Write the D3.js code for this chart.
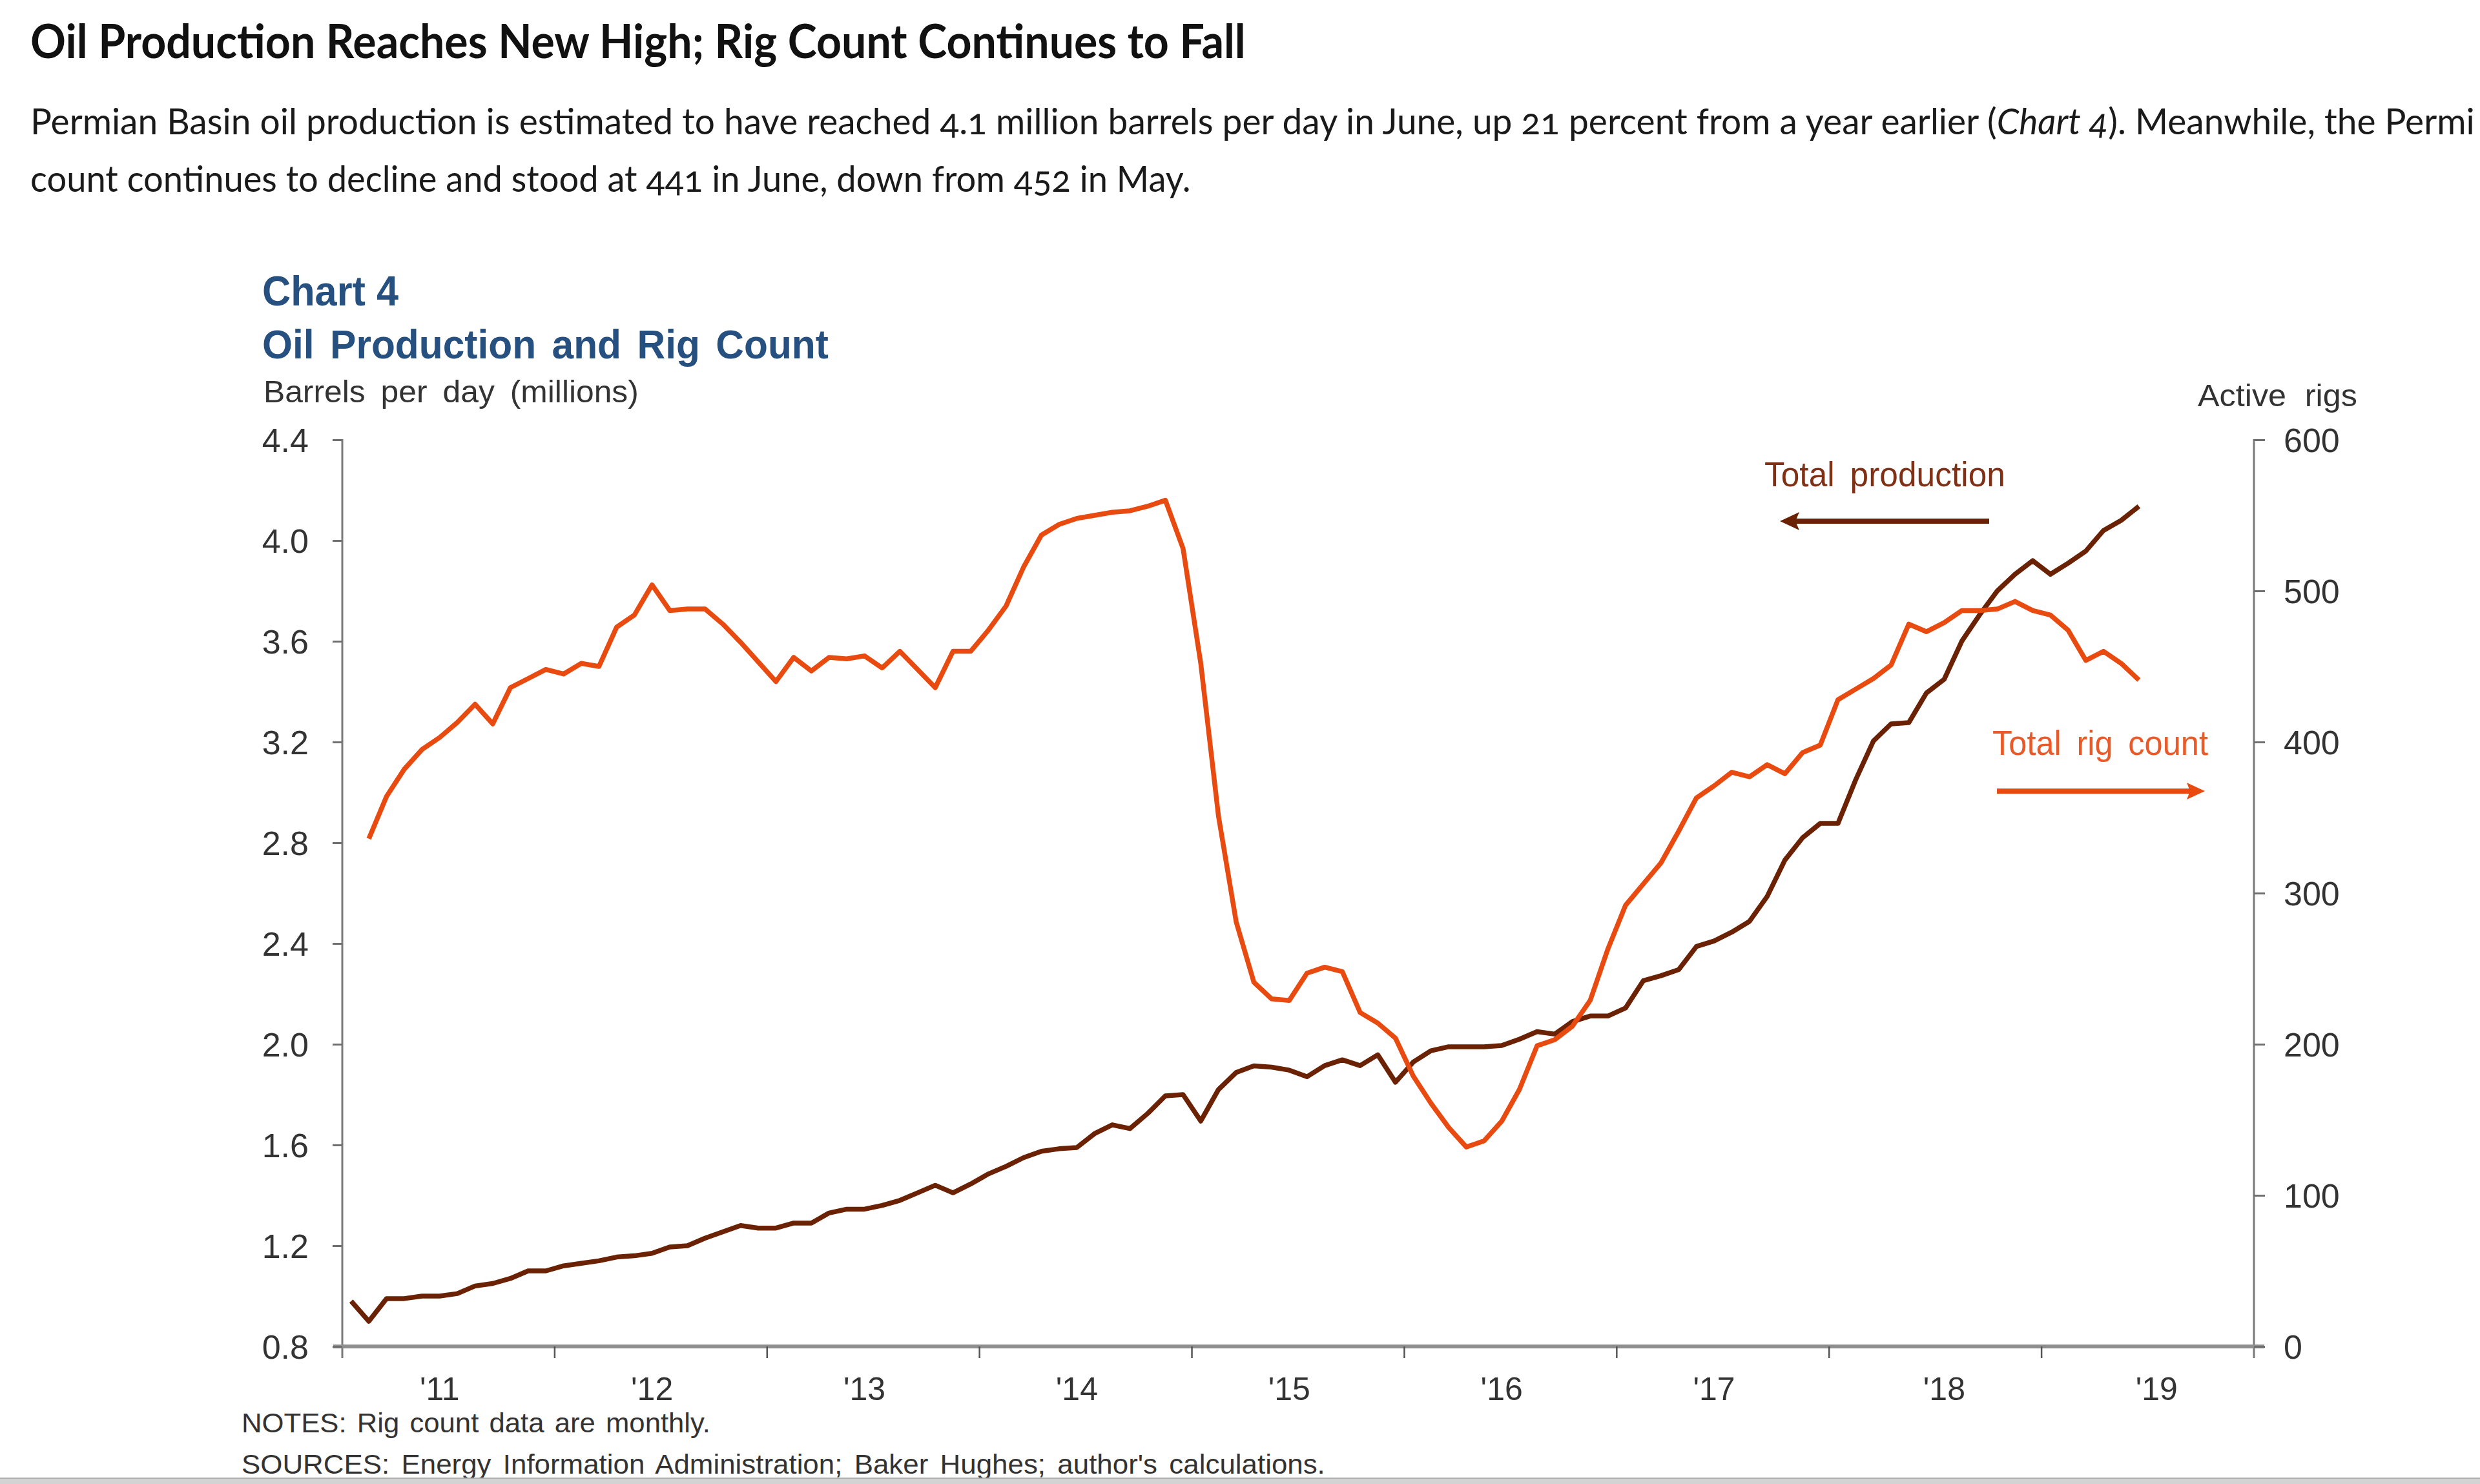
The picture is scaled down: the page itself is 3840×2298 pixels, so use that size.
<!DOCTYPE html>
<html><head><meta charset="utf-8">
<script src="https://cdn.jsdelivr.net/npm/d3@7"></script>
<style>
html,body{margin:0;padding:0;background:#fff;}
svg{display:block;}
</style></head>
<body>
<svg id="c" width="3840" height="2298"></svg>
<script>
// ---------------- DATA ----------------
// Monthly Permian Basin oil production (million barrels per day), Jan 2011 - Jun 2019
const production = [
  0.98,0.90,0.99,0.99,1.00,1.00,1.01,1.04,1.05,1.07,1.10,1.10,
  1.12,1.13,1.14,1.155,1.16,1.17,1.195,1.20,1.23,1.255,1.28,1.27,
  1.27,1.29,1.29,1.33,1.345,1.345,1.36,1.38,1.41,1.44,1.41,1.445,
  1.485,1.515,1.55,1.575,1.585,1.59,1.645,1.68,1.665,1.725,1.795,1.80,
  1.695,1.82,1.888,1.914,1.909,1.897,1.871,1.915,1.938,1.915,1.958,1.849,
  1.929,1.974,1.99,1.99,1.99,1.995,2.02,2.05,2.04,2.09,2.112,2.112,
  2.144,2.252,2.272,2.296,2.388,2.41,2.445,2.488,2.587,2.731,2.82,2.877,
  2.877,3.05,3.204,3.272,3.277,3.395,3.449,3.601,3.705,3.80,3.866,3.92,
  3.866,3.91,3.958,4.04,4.08,4.136
];
// Monthly Permian Basin active rig count, Jan 2011 - Jun 2019 (series begins Feb 2011)
const rigCount = [
  null,336,364,382,395,403,413,425,412,436,442,448,
  445,452,450,476,484,504,487,488,488,478,466,453,
  440,456,447,456,455,457,449,460,448,436,460,460,
  474,490,516,537,544,548,550,552,553,556,560,528,
  452,351,281,241,230,229,247,251,248,221,214,204,
  179,161,145,132,136,149,170,199,203,212,229,263,
  292,306,320,341,363,371,380,377,385,379,393,398,
  428,435,442,451,478,473,479,487,487,488,493,487,
  484,474,454,460,452,441
];
const leftTicks  = [0.8,1.2,1.6,2.0,2.4,2.8,3.2,3.6,4.0,4.4];
const rightTicks = [0,100,200,300,400,500,600];
const yearLabels = ["'11","'12","'13","'14","'15","'16","'17","'18","'19"];
const yearLabelMonths = ["2011-06","2012-06","2013-06","2014-06","2015-06","2016-06","2017-06","2018-07","2019-07"];

// ---------------- LAYOUT ----------------
const svg = d3.select("#c");
const plot = {left:530, right:3490, top:681, bottom:2085};
const fmtM = d3.timeFormat("%Y-%m");
const months = d3.timeMonth.range(new Date(2011,0,1), new Date(2020,0,1)).map(fmtM);
const x = d3.scaleBand().domain(months).range([plot.left, plot.right]).padding(0);
const xc = m => x(m) + x.bandwidth()/2;
const yL = d3.scaleLinear().domain([0.8,4.4]).range([plot.bottom, plot.top]);
const yR = d3.scaleLinear().domain([0,600]).range([plot.bottom, plot.top]);

const C_PROD = "#6B2204", C_RIG = "#E84A0F", C_BLUE = "#26507F";
const ARIAL = "'Liberation Sans', Arial, sans-serif";
const LATO = "Lato, 'Open Sans', sans-serif";

// helper: place text at (x,y) baseline, scaled horizontally to width w
function fitText(g, str, px, py, w, opts) {
  const t = g.append("text").attr("x",0).attr("y",0)
    .style("font-family", opts.family).style("font-size", opts.size+"px")
    .style("font-weight", opts.weight||400).attr("fill", opts.fill||"#222")
    .style("word-spacing", opts.ws||"0px")
    .style("font-variant-numeric", opts.num||"normal").text(str);
  const len = t.node().getComputedTextLength();
  const k = w/len;
  t.attr("transform", `translate(${px},${py}) scale(${k},1)`);
  return t;
}

// ---------- page header ----------
fitText(svg, "Oil Production Reaches New High; Rig Count Continues to Fall", 47, 90, 1882,
  {family:LATO, size:72, weight:700, fill:"#111"});

// body line 1 (the reference shows it cropped at the right edge after "Permi")
{
  const t = svg.append("text").attr("x",0).attr("y",0)
    .style("font-family", LATO).style("font-size","57px").attr("fill","#1a1a1a")
    .style("font-variant-numeric","oldstyle-nums");
  t.append("tspan").text("Permian Basin oil production is estimated to have reached 4.1 million barrels per day in June, up 21 percent from a year earlier (");
  t.append("tspan").style("font-style","italic").text("Chart 4");
  t.append("tspan").text("). Meanwhile, the Permi");
  const len = t.node().getComputedTextLength();
  const k = (3832-47)/len;
  t.attr("transform", `translate(47,208) scale(${k},1)`);
}
fitText(svg, "count continues to decline and stood at 441 in June, down from 452 in May.", 47, 297, 1797,
  {family:LATO, size:57, fill:"#1a1a1a", num:"oldstyle-nums"});

// ---------- chart titles ----------
fitText(svg, "Chart 4", 406, 473, 211, {family:ARIAL, size:64, weight:700, fill:C_BLUE});
fitText(svg, "Oil Production and Rig Count", 406, 555, 877, {family:ARIAL, size:63, weight:700, fill:C_BLUE, ws:"8px"});
fitText(svg, "Barrels per day (millions)", 408, 623, 581, {family:ARIAL, size:49, fill:"#333", ws:"10px"});
fitText(svg, "Active rigs", 3403, 629, 247, {family:ARIAL, size:48, fill:"#333", ws:"14px"});

// ---------- axes ----------
const axG = svg.append("g");
axG.append("line").attr("x1",plot.left).attr("x2",plot.left).attr("y1",plot.top-1).attr("y2",2103)
  .attr("stroke","#7a7a7a").attr("stroke-width",3);
axG.append("line").attr("x1",plot.right).attr("x2",plot.right).attr("y1",plot.top-1).attr("y2",2103)
  .attr("stroke","#7a7a7a").attr("stroke-width",3);

const gl = svg.append("g").attr("transform",`translate(${plot.left},0)`)
  .call(d3.axisLeft(yL).tickValues(leftTicks).tickSize(15).tickPadding(37).tickFormat(d3.format(".1f")));
const gr = svg.append("g").attr("transform",`translate(${plot.right},0)`)
  .call(d3.axisRight(yR).tickValues(rightTicks).tickSize(17).tickPadding(29).tickFormat(d3.format("d")));
[gl,gr].forEach(g=>{
  g.select(".domain").remove();
  g.selectAll(".tick line").attr("stroke","#6f6f6f").attr("stroke-width",3);
  g.selectAll(".tick text").attr("fill","#333").attr("dy","0.36em")
    .style("font-family",ARIAL).style("font-size","52px");
});

axG.append("line").attr("x1",516).attr("x2",3506).attr("y1",plot.bottom).attr("y2",plot.bottom)
  .attr("stroke","#8e8e8e").attr("stroke-width",6);
const yearStarts = months.filter(m => m.endsWith("-01") && m !== months[0]);
axG.selectAll(".xt").data(yearStarts).join("line").attr("class","xt")
  .attr("x1",d=>x(d)).attr("x2",d=>x(d)).attr("y1",plot.bottom).attr("y2",2103)
  .attr("stroke","#555").attr("stroke-width",2.5);
axG.selectAll(".xl").data(yearLabels).join("text").attr("class","xl")
  .attr("x",(d,i)=>xc(yearLabelMonths[i])).attr("y",2168)
  .attr("text-anchor","middle").attr("fill","#333")
  .style("font-family",ARIAL).style("font-size","50px").text(d=>d);

// ---------- series ----------
const prodData = production.map((v,i)=>({m:months[i], v}));
const rigData  = rigCount.map((v,i)=>({m:months[i], v}));
const lineL = d3.line().x(d=>xc(d.m)).y(d=>yL(d.v));
const lineR = d3.line().defined(d=>d.v!=null).x(d=>xc(d.m)).y(d=>yR(d.v));

svg.append("path").datum(prodData).attr("d",lineL).attr("fill","none")
  .attr("stroke",C_PROD).attr("stroke-width",7.5).attr("stroke-linejoin","round");
svg.append("path").datum(rigData).attr("d",lineR).attr("fill","none")
  .attr("stroke",C_RIG).attr("stroke-width",7.5).attr("stroke-linejoin","round");

// ---------- annotations ----------
fitText(svg, "Total production", 2732, 753, 373, {family:ARIAL, size:54, fill:"#803015", ws:"10px"});
fitText(svg, "Total rig count", 3085, 1169, 334, {family:ARIAL, size:53, fill:"#EA5A28", ws:"10px"});
svg.append("line").attr("x1",3080).attr("x2",2776).attr("y1",807).attr("y2",807)
  .attr("stroke",C_PROD).attr("stroke-width",8);
svg.append("path").attr("d","M2756,807 L2786,793 L2780,807 L2786,821 Z").attr("fill",C_PROD);
svg.append("line").attr("x1",3092).attr("x2",3394).attr("y1",1225).attr("y2",1225)
  .attr("stroke",C_RIG).attr("stroke-width",8);
svg.append("path").attr("d","M3414,1225 L3386,1212 L3391,1225 L3386,1238 Z").attr("fill",C_RIG);

// ---------- notes ----------
fitText(svg, "NOTES: Rig count data are monthly.", 374, 2218, 726, {family:ARIAL, size:43, fill:"#333", ws:"4px"});
fitText(svg, "SOURCES: Energy Information Administration; Baker Hughes; author's calculations.", 374, 2282, 1678,
  {family:ARIAL, size:43, fill:"#333", ws:"6px"});

// bottom gray strip
svg.append("rect").attr("x",0).attr("y",2289).attr("width",3840).attr("height",9).attr("fill","#d3d3d3");
svg.append("line").attr("x1",0).attr("x2",3840).attr("y1",2289).attr("y2",2289).attr("stroke","#b0b0b0").attr("stroke-width",2);
</script>
</body></html>
